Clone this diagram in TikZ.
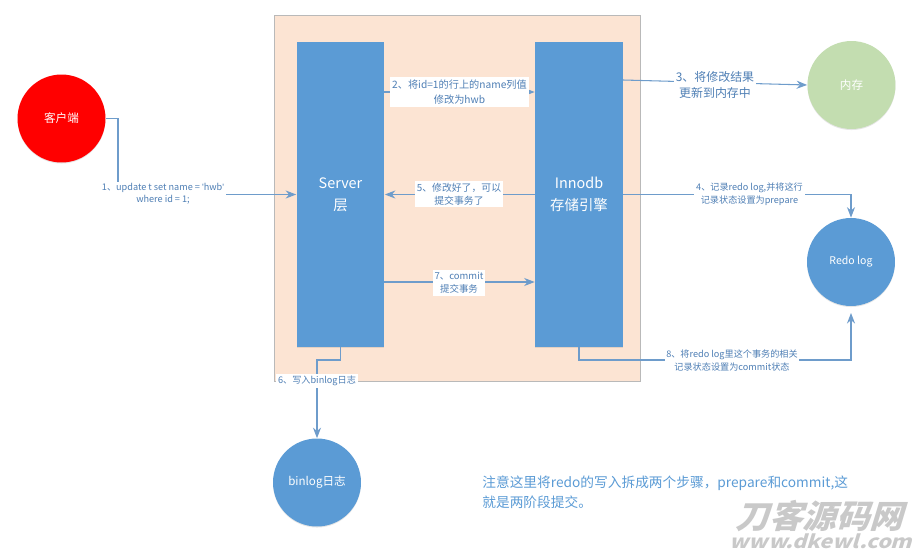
\documentclass[tikz,border=0pt]{standalone}
\usepackage{fontspec}
\setmainfont{Noto Sans CJK SC}
\newfontfamily\quotefont{Liberation Sans}
\usetikzlibrary{arrows.meta,shadows}
\definecolor{boxblue}{HTML}{5B9BD5}
\definecolor{panelpeach}{HTML}{FCE4D3}
\definecolor{memgreen}{HTML}{C3DDB0}
\definecolor{linkblue}{HTML}{6E9CCB}
\definecolor{textblue}{HTML}{4F7FB5}
\definecolor{markgray}{HTML}{C9C9C9}
\tikzset{
  softshadow/.style={drop shadow={shadow xshift=0pt,shadow yshift=-0.6pt,opacity=0.2}},
  layerbox/.style={rectangle,draw=none,fill=boxblue,minimum width=1.76cm,minimum height=6.1cm,inner sep=0pt,
    text=white,align=center,font=\fontsize{8.2}{12.5}\selectfont,softshadow},
  round/.style={circle,draw=none,minimum size=1.76cm,inner sep=0pt,text=white,font=\fontsize{6.6}{8}\selectfont,softshadow},
  conn/.style={draw=linkblue,line width=0.6pt,-{Stealth[length=6pt,width=4.6pt]}},
  steplabel/.style={rectangle,fill=white,inner xsep=1pt,inner ysep=1pt,text=textblue,align=center,
    font=\fontsize{5.2}{7.4}\selectfont},
}
\begin{document}
\begin{tikzpicture}[x=0.02cm,y=-0.02cm]
\useasboundingbox (0,0) rectangle (920,554);
\node at (457,198) [rectangle,draw=gray!55,line width=0.4pt,fill=panelpeach,minimum width=7.32cm,minimum height=7.32cm,inner sep=0pt,softshadow] (panel) {};
\node at (340.5,194.5) [layerbox] (server) {Server\\层};
\node at (579,194.5) [layerbox] (innodb) {Innodb\\存储引擎};
\node at (61.5,118.5) [round,fill=red] (client) {客户端};
\node at (851.5,85) [round,fill=memgreen] (mem) {内存};
\node at (851,262) [round,fill=boxblue,font=\fontsize{6}{8}\selectfont] (redo) {Redo log};
\node at (317,482.5) [round,fill=boxblue] (binlog) {binlog日志};
%
\coordinate (c1) at (118,194.5);
\coordinate (c2) at (384,92);
\coordinate (c3) at (623,80);
\coordinate (c4) at (851,194.5);
\coordinate (c6a) at (340.5,360);
\coordinate (c6b) at (317,360);
\coordinate (c7) at (384,282);
\coordinate (c8a) at (579,360);
\coordinate (c8b) at (851,360);
\coordinate (c8c) at (851,313);
%
\draw[conn] (client.east) -| (c1) -- (server.west);
\draw[conn] (c2) -- (innodb.west |- c2);
\draw[conn] (c3) -- (mem.west);
\draw[conn] (innodb.east) -- (c4) -- (redo.north);
\draw[conn] (innodb.west) -- (server.east);
\draw[conn] (server.south) -- (c6a) -- (c6b) -- (binlog.north);
\draw[conn] (c7) -- (innodb.west |- c7);
\draw[conn] (innodb.south) -- (c8a) -- (c8b) -- (c8c);
%
\node at (163,194) [steplabel,font=\fontsize{5.2}{6.9}\selectfont] (l1) {1、update t set name = {\quotefont\symbol{39}}hwb{\quotefont\symbol{39}}\\where id = 1;};
\node at (459.5,92) [steplabel,font=\fontsize{5.8}{8.4}\selectfont,inner ysep=1.5pt] (l2) {2、将id=1的行上的name列值\\修改为hwb};
\node at (715,85) [steplabel,font=\fontsize{6.8}{9.6}\selectfont] (l3) {3、将修改结果\\更新到内存中};
\node at (749.5,194.5) [steplabel] (l4) {4、记录redo log,并将这行\\记录状态设置为prepare};
\node at (459,194) [steplabel,font=\fontsize{5.6}{7.6}\selectfont] (l5) {5、修改好了，可以\\提交事务了};
\node at (317,381) [steplabel] (l6) {6、写入binlog日志};
\node at (459,283) [steplabel,font=\fontsize{5.4}{7.6}\selectfont] (l7) {7、commit\\提交事务};
\node at (732,361) [steplabel] (l8) {8、将redo log里这个事务的相关\\记录状态设置为commit状态};
%
\node at (482,492) [anchor=west,align=left,text=boxblue,font=\fontsize{7.8}{11.2}\selectfont,inner sep=0pt] (note) {注意这里将redo的写入拆成两个步骤，prepare和commit,这\\就是两阶段提交。};
\node at (823,516) [xslant=0.3,xscale=1.03,text=markgray,font=\fontsize{18.5}{19}\bfseries\selectfont,inner sep=0pt] (mark1) {刀客源码网};
\node at (823,541) [xslant=0.3,xscale=1.17,text=markgray,font=\fontsize{10.5}{11}\bfseries\selectfont,inner sep=0pt] (mark2) {www.dkewl.com};
\end{tikzpicture}
\end{document}
